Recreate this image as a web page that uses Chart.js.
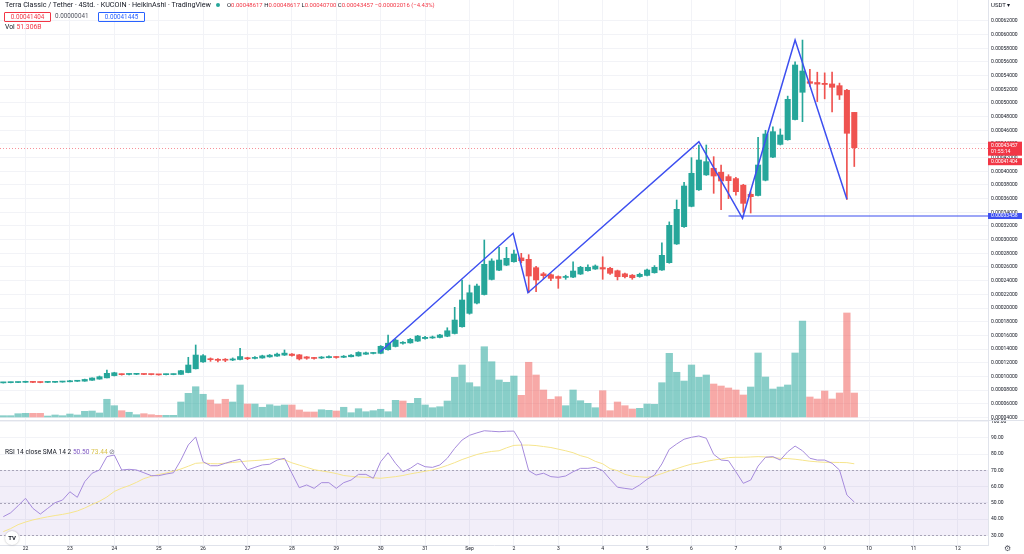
<!DOCTYPE html>
<html>
<head>
<meta charset="utf-8">
<script src="https://cdn.jsdelivr.net/npm/chart.js@4.4.1/dist/chart.umd.min.js"></script>
<style>
  body { margin: 0; width: 1024px; height: 554px; overflow: hidden; position: relative; background: #fff;
         font-family: Roboto, "Liberation Sans", sans-serif; color: #131722; }
  canvas { position: absolute; left: 0; }
  #priceChart { top: 0; }
  #rsiChart { top: 405px; }
  .t { position: absolute; white-space: nowrap; font-size: 6.3px; line-height: 9px; }
  .red { color: #f23645; }
  .box { position: absolute; height: 8px; line-height: 8px; font-size: 6.3px; text-align: center; border-radius: 1px; }
  .sep { position: absolute; left: 0; width: 1024px; height: 1px; background: #e0e3eb; }
</style>
</head>
<body>
<canvas id="priceChart" width="1024" height="421"></canvas>
<canvas id="rsiChart" width="1024" height="149"></canvas>

<div class="sep" style="top:420px"></div>

<!-- en-tête -->
<div class="t" style="left:5px;top:0;font-size:7.2px">Terra Classic / Tether · 4Std. · KUCOIN · HeikinAshi · TradingView</div>
<div style="position:absolute;left:216px;top:2.5px;width:4px;height:4px;border-radius:50%;background:#26a69a"></div>
<div class="t" style="left:227px;top:0;font-size:5.95px">O<span class="red">0.00048617</span> H<span class="red">0.00048617</span> L<span class="red">0.00040700</span> C<span class="red">0.00043457</span> <span class="red">−0.00002016 (−4.43%)</span></div>
<div class="box" style="left:4px;top:12px;width:45px;border:1px solid #f23645;color:#f23645">0.00041404</div>
<div class="t" style="left:55px;top:12px;color:#50535e">0.00000041</div>
<div class="box" style="left:98px;top:12px;width:45px;border:1px solid #2962ff;color:#2962ff">0.00041445</div>
<div class="t" style="left:5px;top:22.5px;font-size:6.8px">Vol <span class="red">51.306B</span></div>
<div class="t" style="left:991px;top:0;font-size:6px">USDT ▾</div>

<!-- légende RSI -->
<div class="t" style="left:5px;top:448px;font-size:6.6px">RSI 14 close SMA 14 2 <span style="color:#7e57c2">50.50</span> <span style="color:#d8c24a">73.44</span> <span style="color:#787b86">⊘</span></div>

<div style="position:absolute;left:5px;top:531px;width:14px;height:14px;border-radius:50%;background:#fff;box-shadow:0 0 2px rgba(0,0,0,0.3);font:bold 6px Roboto,sans-serif;line-height:14px;text-align:center">TV</div>
<div class="t" style="left:1004px;top:544px;font-size:8px;color:#50535e">⚙</div>

<script>
// prix en unités de 0.00001 USDT, une unité x = une bougie de 4h, 0 = 22 août 00:00
const SCALE = 1e-5;
const FIRST = -3;
const dayLabels = ['22', '23', '24', '25', '26', '27', '28', '29', '30', '31', 'Sep', '2', '3', '4', '5', '6', '7', '8', '9', '10', '11', '12'];

const haOpen = [9.05, 9.08, 9.10, 9.13, 9.19, 9.15, 9.12, 9.13, 9.17, 9.21, 9.28, 9.30, 9.43, 9.60, 9.78, 10.11,
  10.32, 10.28, 10.30, 10.31, 10.30, 10.28, 10.25, 10.26, 10.29, 10.56, 11.11, 12.12, 12.57, 12.50, 12.42, 12.39,
  12.47, 12.68, 12.63, 12.69, 12.85, 12.97, 13.11, 13.26, 13.15, 12.85, 12.75, 12.68, 12.73, 12.82, 12.79, 12.87,
  12.99, 13.24, 13.35, 13.37, 13.90, 14.37, 14.84, 14.90, 15.16, 15.53, 15.62, 15.69, 15.87, 16.27, 17.26, 19.22,
  20.72, 21.97, 24.18, 25.53, 26.27, 26.77, 27.33, 27.12, 25.90, 25.00, 24.87, 24.60, 24.47, 24.52, 24.97, 25.46,
  25.70, 25.92, 25.81, 25.45, 25.00, 24.80, 24.60, 24.77, 25.16, 25.56, 26.63, 29.37, 31.90, 34.87, 37.29, 39.47,
  40.44, 39.87, 39.22, 38.93, 37.97, 36.64, 36.46, 38.69, 42.07, 43.94, 44.62, 47.57, 51.56, 53.11, 52.99, 52.87,
  52.78, 52.53, 51.85, 48.62];
const haClose = [9.10, 9.12, 9.15, 9.25, 9.12, 9.10, 9.15, 9.20, 9.25, 9.35, 9.33, 9.55, 9.76, 9.95, 10.44, 10.53,
  10.25, 10.31, 10.33, 10.28, 10.26, 10.22, 10.28, 10.32, 10.83, 11.66, 13.12, 13.02, 12.44, 12.34, 12.36, 12.55,
  12.90, 12.58, 12.75, 13.00, 13.10, 13.25, 13.40, 13.05, 12.55, 12.65, 12.62, 12.78, 12.90, 12.76, 12.95, 13.10,
  13.50, 13.45, 13.40, 14.40, 14.85, 15.30, 14.95, 15.42, 15.90, 15.71, 15.76, 16.05, 16.67, 18.24, 21.17, 22.23,
  23.22, 26.39, 26.88, 27.02, 27.27, 27.90, 26.92, 24.68, 24.10, 24.73, 24.34, 24.34, 24.58, 25.41, 25.95, 25.95,
  26.14, 25.70, 25.08, 24.58, 24.58, 24.43, 24.93, 25.56, 25.95, 27.71, 32.10, 34.44, 37.85, 39.71, 41.65, 41.41,
  39.31, 38.58, 38.63, 37.02, 35.31, 36.29, 40.92, 45.46, 45.80, 45.31, 50.53, 55.55, 54.67, 52.87, 52.75, 52.70,
  52.29, 51.16, 45.56, 43.46];
const haHigh = [9.14, 9.16, 9.18, 9.30, 9.22, 9.17, 9.18, 9.23, 9.28, 9.42, 9.38, 9.60, 9.80, 10.05, 10.93, 10.60,
  10.36, 10.36, 10.38, 10.34, 10.32, 10.30, 10.32, 10.36, 10.90, 12.79, 14.59, 13.20, 12.70, 12.60, 12.60, 12.70,
  14.10, 12.80, 12.90, 13.10, 13.20, 13.40, 13.86, 13.35, 13.20, 12.90, 12.80, 12.90, 13.00, 12.90, 13.05, 13.18,
  13.60, 13.55, 13.50, 14.50, 16.05, 15.45, 15.10, 15.55, 16.00, 15.85, 15.90, 16.15, 17.11, 20.10, 24.10, 23.36,
  23.50, 29.95, 27.20, 28.88, 28.88, 28.48, 28.00, 27.80, 26.10, 25.20, 25.00, 24.70, 24.80, 26.77, 26.10, 26.30,
  26.30, 27.50, 25.95, 25.55, 25.10, 24.90, 25.10, 25.70, 26.20, 29.55, 32.60, 35.80, 38.40, 42.00, 43.85, 43.85,
  42.14, 40.92, 39.50, 39.10, 38.10, 37.00, 44.97, 46.00, 46.50, 46.20, 51.00, 56.00, 59.20, 54.90, 54.50, 54.40,
  54.50, 52.90, 52.00, 48.62];
const haLow = [9.02, 9.05, 9.07, 9.10, 9.08, 9.06, 9.09, 9.11, 9.15, 9.19, 9.25, 9.28, 9.40, 9.58, 9.76, 10.05,
  10.18, 10.22, 10.25, 10.24, 10.22, 10.18, 10.21, 10.23, 10.27, 10.52, 11.08, 12.05, 12.20, 12.10, 12.15, 12.30,
  12.40, 12.45, 12.55, 12.65, 12.80, 12.92, 13.05, 12.95, 12.40, 12.50, 12.50, 12.60, 12.68, 12.65, 12.74, 12.83,
  12.95, 13.20, 13.28, 13.30, 13.85, 14.30, 14.70, 14.85, 15.10, 15.45, 15.55, 15.62, 15.80, 16.20, 17.20, 19.10,
  20.60, 21.90, 24.10, 25.45, 26.20, 26.70, 26.60, 22.23, 22.38, 24.30, 24.00, 22.88, 24.20, 24.45, 24.90, 25.40,
  25.65, 24.20, 24.90, 24.10, 24.40, 24.20, 24.50, 24.70, 25.10, 25.50, 26.55, 29.30, 31.80, 34.80, 37.20, 39.40,
  36.78, 34.40, 36.00, 36.50, 34.00, 33.90, 36.40, 38.60, 42.00, 43.85, 44.55, 47.50, 47.26, 52.40, 50.20, 50.60,
  48.70, 50.50, 35.90, 40.70];

// volume en milliards
const volume = [2.8, 2.8, 7.1, 7.9, 7.9, 7.9, 2.1, 4.3, 2.8, 6.4, 4.3, 12.2, 12.8, 8.6, 37.9, 24.2,
  13.5, 10.1, 4.9, 7.1, 4.9, 3.6, 3.6, 3.6, 32.1, 50.7, 64.8, 48.6, 36.4, 27.8, 37.9, 32.1,
  68.5, 27.8, 27.8, 20.8, 26.3, 23.5, 25.7, 25.7, 15.0, 10.7, 10.7, 15.6, 14.3, 12.8, 20.8, 9.2,
  17.8, 11.3, 13.5, 16.5, 11.3, 35.7, 34.2, 29.3, 40.0, 25.7, 19.9, 22.0, 34.2, 85.0, 111.3, 73.4,
  64.8, 150.4, 118.3, 79.2, 74.3, 87.7, 46.4, 117.1, 89.9, 57.8, 37.9, 43.4, 24.2, 57.8, 34.9, 29.3,
  19.9, 56.3, 13.5, 32.1, 24.2, 17.1, 18.6, 27.8, 27.2, 73.4, 136.3, 95.7, 77.0, 111.3, 85.0, 89.9,
  70.6, 66.3, 62.1, 57.8, 47.1, 64.2, 137.0, 85.6, 59.9, 64.2, 68.5, 137.0, 205.4, 42.8, 38.5, 55.6,
  38.5, 51.4, 222.6, 51.3];
const volUp = [1, 1, 1, 1, 0, 0, 1, 1, 1, 1, 1, 1, 1, 1, 1, 1, 0, 1, 1, 0, 0, 0, 1, 1, 1, 1, 1, 1, 0, 0, 0, 1,
  1, 0, 1, 1, 1, 1, 1, 0, 0, 0, 0, 1, 1, 0, 1, 1, 1, 1, 1, 1, 1, 1, 0, 1, 1, 1, 1, 1, 1, 1, 1, 1,
  1, 1, 1, 1, 1, 1, 0, 0, 0, 0, 0, 0, 1, 1, 1, 1, 1, 0, 0, 0, 0, 0, 1, 1, 1, 1, 1, 1, 1, 1, 1, 1,
  0, 0, 0, 0, 0, 1, 1, 1, 1, 1, 1, 1, 1, 0, 0, 0, 0, 0, 0, 0];

const rsi = [41.5, 43.9, 48.2, 52.8, 46.6, 43.1, 46.6, 50.1, 51.7, 56.8, 53.4, 63.0, 68.2, 70.2, 78.4, 79.4,
  70.2, 70.6, 70.2, 68.5, 66.7, 66.7, 67.7, 68.5, 76.3, 85.6, 90.5, 75.3, 72.8, 72.8, 74.3, 75.7,
  76.8, 70.2, 71.8, 73.3, 73.7, 76.3, 77.4, 68.2, 59.3, 61.0, 58.9, 62.4, 62.4, 58.9, 62.4, 64.0,
  67.5, 67.5, 65.1, 75.3, 80.8, 74.3, 69.1, 71.2, 74.3, 72.2, 71.8, 73.3, 77.4, 83.5, 88.6, 91.5,
  93.0, 94.3, 94.0, 93.7, 94.0, 94.1, 86.6, 69.8, 67.1, 68.2, 66.1, 65.7, 66.5, 69.1, 71.2, 71.2,
  71.8, 69.8, 64.5, 59.6, 58.9, 58.3, 61.0, 64.5, 67.1, 73.9, 82.9, 86.2, 89.1, 90.3, 91.1, 89.7,
  79.8, 76.3, 75.9, 69.1, 62.0, 64.0, 72.6, 78.0, 78.4, 76.3, 81.4, 84.9, 82.0, 77.4, 76.3, 76.3,
  74.3, 70.2, 54.8, 50.5];
const rsiSma = [32.3, 34.2, 36.6, 38.2, 39.5, 40.5, 41.4, 42.2, 42.9, 43.8, 45.0, 46.8, 49.0, 51.0, 53.6, 57.0,
  59.0, 60.6, 62.6, 64.9, 66.3, 67.4, 68.3, 69.5, 70.8, 72.5, 74.3, 74.6, 74.1, 74.0, 74.4, 74.8,
  75.3, 75.7, 76.0, 76.3, 76.8, 77.3, 76.5, 74.6, 73.2, 71.8, 70.4, 69.6, 68.9, 68.0, 66.8, 66.3,
  65.9, 65.7, 65.4, 65.1, 65.6, 66.1, 66.8, 67.8, 68.6, 69.4, 70.2, 71.5, 73.0, 74.7, 76.6, 78.2,
  79.7, 80.8, 81.6, 82.0, 83.8, 85.3, 85.5, 85.5, 85.2, 84.6, 84.0, 83.0, 82.0, 80.8, 79.0, 77.8,
  75.5, 74.0, 71.0, 69.8, 67.5, 66.4, 66.0, 65.7, 66.5, 68.0, 69.6, 71.0, 72.5, 73.8, 74.5, 75.5,
  76.3, 77.0, 77.8, 78.0, 78.0, 78.2, 78.4, 78.2, 77.8, 77.4, 77.2, 76.8, 76.2, 75.6, 75.2, 74.9,
  74.9, 74.8, 74.7, 74.0];

// tracé bleu (zigzag) et ligne horizontale, en [x bougie, prix]
const zigzag = [[47.9, 13.56], [65.9, 30.93], [67.9, 22.24], [91.0, 44.33], [96.9, 33.12], [104.0, 59.21], [111.0, 35.9]];
const supportStart = 95.0;
const supportPrice = 33.458;
const lastPrice = 43.457;
const realPrice = 41.404;
const countdown = '01:55:14';
const rsiLevels = [30, 50, 70];

const X_MIN = -3.446, X_MAX = 130.07;
const UP = '#26a69a', DOWN = '#ef5350';
const GRID = '#f2f3f7';
const AXIS_W = 36;

function fmt(v) { return (v * SCALE).toFixed(8); }

function dayTicks(s) {
  s.ticks = dayLabels.map((l, k) => ({ value: k * 6 }));
}

var candleColor = haOpen.map((o, i) => (haClose[i] >= o ? UP : DOWN));

var priceBoxes = {
  id: 'priceBoxes',
  beforeDatasetsDraw(chart) {
    const { ctx, chartArea: a, scales } = chart;
    const py = Math.round(scales.y.getPixelForValue(lastPrice)) + 0.5;
    ctx.save();
    ctx.strokeStyle = 'rgba(242,54,69,0.55)';
    ctx.lineWidth = 1;
    ctx.setLineDash([1, 2]);
    ctx.beginPath();
    ctx.moveTo(a.left, py);
    ctx.lineTo(a.right, py);
    ctx.stroke();
    ctx.restore();
  },
  afterDraw(chart) {
    const { ctx, chartArea: a, scales } = chart;
    const x0 = a.right;
    ctx.save();
    ctx.font = '5px Roboto';
    ctx.textBaseline = 'middle';
    ctx.textAlign = 'left';
    // prix courant + compte à rebours
    let y = scales.y.getPixelForValue(lastPrice);
    ctx.fillStyle = '#f23645';
    ctx.fillRect(x0, y - 6, 34, 14);
    ctx.fillStyle = '#fff';
    ctx.fillText(fmt(lastPrice), x0 + 3, y - 1.5);
    ctx.fillText(countdown, x0 + 3, y + 4);
    // prix réel
    y = scales.y.getPixelForValue(realPrice);
    ctx.fillStyle = '#f23645';
    ctx.fillRect(x0, y - 3.5, 34, 7);
    ctx.fillStyle = '#fff';
    ctx.fillText(fmt(realPrice), x0 + 3, y);
    // ligne horizontale bleue
    y = scales.y.getPixelForValue(supportPrice);
    ctx.fillStyle = '#3d4ff0';
    ctx.fillRect(x0, y - 3, 34, 6);
    ctx.fillStyle = '#fff';
    ctx.fillText(fmt(supportPrice), x0 + 3, y);
    ctx.restore();
  }
};

var rsiBand = {
  id: 'rsiBand',
  beforeDatasetsDraw(chart) {
    const { ctx, chartArea: a, scales } = chart;
    const yTop = scales.y.getPixelForValue(rsiLevels[2]);
    const yBot = scales.y.getPixelForValue(rsiLevels[0]);
    ctx.save();
    ctx.fillStyle = 'rgba(126,87,194,0.1)';
    ctx.fillRect(a.left, yTop, a.right - a.left, yBot - yTop);
    ctx.strokeStyle = '#a8a4b8';
    ctx.lineWidth = 1;
    ctx.setLineDash([2, 2]);
    rsiLevels.forEach((lv) => {
      const y = Math.round(scales.y.getPixelForValue(lv)) + 0.5;
      ctx.beginPath();
      ctx.moveTo(a.left, y);
      ctx.lineTo(a.right, y);
      ctx.stroke();
    });
    ctx.restore();
  }
};

Chart.defaults.font.family = 'Roboto';
Chart.defaults.color = '#131722';

var priceChart = new Chart(document.getElementById('priceChart'), {
  type: 'bar',
  data: {
    datasets: [
      {
        type: 'line',
        data: zigzag.map((p) => ({ x: p[0], y: p[1] })),
        borderColor: '#3d4ff0',
        borderWidth: 1.5,
        pointRadius: 0,
        order: 1,
      },
      {
        type: 'line',
        data: [{ x: supportStart, y: supportPrice }, { x: X_MAX, y: supportPrice }],
        borderColor: '#3d4ff0',
        borderWidth: 1.2,
        pointRadius: 0,
        order: 1,
      },
      {
        data: haOpen.map((o, i) => ({ x: i + FIRST, y: [o, haClose[i]] })),
        backgroundColor: candleColor,
        barThickness: 5.4,
        minBarLength: 1,
        grouped: false,
        order: 2,
      },
      {
        data: haLow.map((l, i) => ({ x: i + FIRST, y: [l, haHigh[i]] })),
        backgroundColor: candleColor,
        barThickness: 1,
        grouped: false,
        order: 3,
      },
      {
        data: volume.map((v, i) => ({ x: i + FIRST, y: v })),
        yAxisID: 'yv',
        backgroundColor: volUp.map((u) => (u ? 'rgba(38,166,154,0.55)' : 'rgba(239,83,80,0.5)')),
        barThickness: 6.6,
        grouped: false,
        order: 10,
      },
    ],
  },
  options: {
    responsive: false,
    animation: false,
    layout: { padding: 0 },
    plugins: { legend: { display: false }, tooltip: { enabled: false } },
    scales: {
      x: {
        type: 'linear',
        min: X_MIN,
        max: X_MAX,
        offset: false,
        afterBuildTicks: dayTicks,
        afterFit(s) { s.height = 0; s.paddingLeft = 0; s.paddingRight = 0; },
        ticks: { display: false },
        grid: { color: GRID, drawTicks: false, offset: false },
        border: { display: false },
      },
      y: {
        position: 'right',
        min: 3.47,
        max: 65.06,
        afterBuildTicks(s) {
          const t = [];
          for (let v = 4; v <= 62; v += 2) t.push({ value: v });
          s.ticks = t;
        },
        afterFit(s) { s.width = AXIS_W; s.paddingTop = 0; s.paddingBottom = 0; },
        ticks: { font: { size: 5 }, padding: 3, autoSkip: false, callback: (v) => fmt(v) },
        grid: { color: GRID, drawTicks: false },
        border: { color: '#e0e3eb' },
      },
      yv: {
        display: false,
        min: -8.56,
        max: 892.4,
      },
    },
  },
  plugins: [priceBoxes],
});

var rsiChart = new Chart(document.getElementById('rsiChart'), {
  type: 'line',
  data: {
    datasets: [
      {
        data: rsi.map((v, i) => ({ x: i + FIRST, y: v })),
        borderColor: '#a68bdc',
        borderWidth: 1,
        pointRadius: 0,
        order: 1,
      },
      {
        data: rsiSma.map((v, i) => ({ x: i + FIRST, y: v })),
        borderColor: '#f6e58d',
        borderWidth: 1,
        pointRadius: 0,
        order: 2,
      },
    ],
  },
  options: {
    responsive: false,
    animation: false,
    layout: { padding: { top: 16, left: 0, right: 0, bottom: 0 } },
    plugins: { legend: { display: false }, tooltip: { enabled: false } },
    scales: {
      x: {
        type: 'linear',
        min: X_MIN,
        max: X_MAX,
        offset: false,
        afterBuildTicks: dayTicks,
        afterFit(s) { s.height = 9; s.paddingLeft = 0; s.paddingRight = 0; },
        ticks: {
          font: { size: 5 },
          padding: 1,
          maxRotation: 0,
          autoSkip: false,
          callback: (v) => dayLabels[Math.round(v / 6)],
        },
        grid: { color: GRID, drawTicks: false },
        border: { color: '#e0e3eb' },
      },
      y: {
        position: 'right',
        min: 24.09,
        max: 100.3,
        afterBuildTicks(s) {
          s.ticks = [30, 40, 50, 60, 70, 80, 90, 100].map((v) => ({ value: v }));
        },
        afterFit(s) { s.width = AXIS_W; s.paddingTop = 0; s.paddingBottom = 0; },
        ticks: { font: { size: 5 }, padding: 3, autoSkip: false, callback: (v) => v.toFixed(2) },
        grid: { color: GRID, drawTicks: false },
        border: { color: '#e0e3eb' },
      },
    },
  },
  plugins: [rsiBand],
});
</script>
</body>
</html>
